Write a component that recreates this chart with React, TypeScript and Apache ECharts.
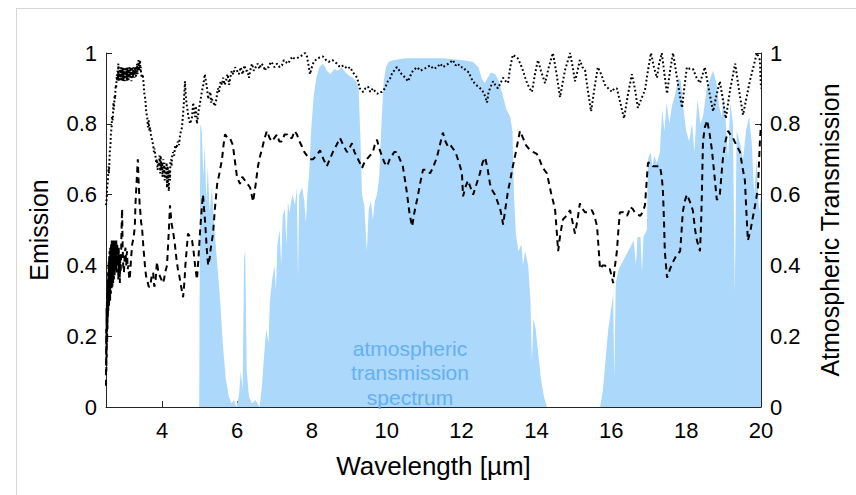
import React, { useEffect, useRef } from "react";
import * as echarts from "echarts";

// Atmospheric transmission spectrum [wavelength µm, transmission]
const transmission: [number, number][] = [
  [2.5, 0], [4.99, 0], [5.0, 0], [5.02, 0.8], [5.06, 0.78], [5.1, 0.65], [5.14, 0.74], [5.18, 0.58],
  [5.22, 0.68], [5.27, 0.55], [5.33, 0.62], [5.4, 0.5], [5.46, 0.42], [5.55, 0.3], [5.62, 0.18],
  [5.7, 0.08], [5.78, 0.03], [5.85, 0.01], [5.92, 0.02], [5.98, 0.0], [6.05, 0.03], [6.1, 0.1],
  [6.15, 0.05], [6.19, 0.42], [6.22, 0.44], [6.26, 0.1], [6.32, 0.03], [6.4, 0.01], [6.5, 0.02],
  [6.6, 0.0], [6.66, 0.05], [6.72, 0.14], [6.78, 0.22], [6.84, 0.18], [6.88, 0.3], [6.94, 0.36],
  [7.0, 0.4], [7.04, 0.33], [7.08, 0.46], [7.14, 0.5], [7.18, 0.4], [7.22, 0.54], [7.28, 0.56],
  [7.32, 0.46], [7.36, 0.58], [7.4, 0.55], [7.48, 0.6], [7.55, 0.57], [7.6, 0.62], [7.63, 0.36],
  [7.66, 0.6], [7.74, 0.62], [7.8, 0.58], [7.84, 0.52], [7.88, 0.6], [7.93, 0.66], [7.98, 0.78],
  [8.05, 0.88], [8.12, 0.93], [8.2, 0.96], [8.3, 0.97], [8.4, 0.95], [8.5, 0.94], [8.6, 0.955],
  [8.7, 0.95], [8.8, 0.96], [8.9, 0.945], [9.0, 0.935], [9.1, 0.93], [9.18, 0.92], [9.25, 0.9],
  [9.3, 0.75], [9.34, 0.6], [9.4, 0.57], [9.47, 0.44], [9.52, 0.56], [9.58, 0.58], [9.63, 0.53],
  [9.68, 0.58], [9.74, 0.6], [9.8, 0.65], [9.86, 0.8], [9.92, 0.92], [9.98, 0.96], [10.05, 0.975],
  [10.2, 0.98], [10.5, 0.985], [11.0, 0.985], [11.5, 0.985], [12.0, 0.98], [12.3, 0.975],
  [12.45, 0.96], [12.55, 0.925], [12.62, 0.915], [12.7, 0.93], [12.78, 0.945], [12.9, 0.94],
  [13.0, 0.92], [13.1, 0.88], [13.2, 0.84], [13.3, 0.82], [13.36, 0.78], [13.4, 0.6], [13.45, 0.49],
  [13.52, 0.44], [13.6, 0.46], [13.64, 0.4], [13.7, 0.44], [13.78, 0.4], [13.84, 0.3], [13.88, 0.13],
  [13.92, 0.25], [13.98, 0.22], [14.05, 0.15], [14.12, 0.08], [14.2, 0.03], [14.28, 0.0],
  [15.7, 0.0], [15.78, 0.05], [15.86, 0.15], [15.92, 0.22], [16.0, 0.28], [16.05, 0.32],
  [16.08, 0.08], [16.12, 0.35], [16.2, 0.39], [16.3, 0.41], [16.4, 0.43], [16.5, 0.45],
  [16.6, 0.47], [16.66, 0.4], [16.7, 0.48], [16.78, 0.48], [16.82, 0.38], [16.86, 0.48],
  [16.95, 0.5], [16.98, 0.7], [17.05, 0.72], [17.1, 0.68], [17.15, 0.71], [17.22, 0.69],
  [17.3, 0.72], [17.36, 0.84], [17.42, 0.78], [17.48, 0.86], [17.55, 0.8], [17.62, 0.85],
  [17.7, 0.88], [17.8, 0.93], [17.86, 0.92], [17.92, 0.85], [18.0, 0.78], [18.08, 0.75],
  [18.16, 0.8], [18.22, 0.72], [18.3, 0.87], [18.38, 0.8], [18.45, 0.82], [18.55, 0.9],
  [18.65, 0.93], [18.72, 0.95], [18.8, 0.92], [18.88, 0.85], [18.95, 0.82], [19.0, 0.88],
  [19.05, 0.82], [19.12, 0.7], [19.18, 0.86], [19.25, 0.8], [19.3, 0.32], [19.35, 0.78],
  [19.45, 0.74], [19.52, 0.7], [19.6, 0.78], [19.68, 0.82], [19.75, 0.75], [19.82, 0.6],
  [19.88, 0.7], [19.95, 0.55], [20.0, 0.6],
];

// Emission, dotted curve [wavelength µm, emission]
const emissionDotted: [number, number][] = [
  [2.5, 0.57], [2.52, 0.59], [2.53, 0.62], [2.55, 0.64], [2.57, 0.68], [2.58, 0.66], [2.6, 0.72],
  [2.62, 0.74], [2.63, 0.77], [2.65, 0.79], [2.66, 0.82], [2.68, 0.81], [2.7, 0.86], [2.71, 0.84],
  [2.73, 0.88], [2.74, 0.87], [2.76, 0.91], [2.77, 0.9], [2.79, 0.94], [2.8, 0.92], [2.81, 0.95],
  [2.82, 0.93], [2.83, 0.97], [2.84, 0.92], [2.85, 0.95], [2.86, 0.93], [2.87, 0.96], [2.88, 0.92],
  [2.89, 0.95], [2.9, 0.93], [2.91, 0.96], [2.92, 0.92], [2.93, 0.95], [2.94, 0.93], [2.95, 0.96],
  [2.96, 0.92], [2.97, 0.95], [2.98, 0.93], [2.99, 0.96], [3.0, 0.92], [3.01, 0.95], [3.02, 0.93],
  [3.03, 0.96], [3.04, 0.93], [3.05, 0.95], [3.06, 0.92], [3.07, 0.96], [3.08, 0.93], [3.09, 0.95],
  [3.1, 0.92], [3.11, 0.96], [3.12, 0.93], [3.13, 0.95], [3.14, 0.93], [3.15, 0.96], [3.16, 0.93],
  [3.17, 0.95], [3.18, 0.92], [3.19, 0.96], [3.2, 0.93], [3.21, 0.95], [3.22, 0.93], [3.23, 0.96],
  [3.24, 0.94], [3.25, 0.95], [3.26, 0.93], [3.27, 0.96], [3.28, 0.94], [3.29, 0.96], [3.3, 0.93],
  [3.31, 0.96], [3.32, 0.94], [3.33, 0.97], [3.34, 0.94], [3.35, 0.96], [3.36, 0.95], [3.37, 0.98],
  [3.38, 0.95], [3.39, 0.97], [3.4, 0.96], [3.41, 0.98], [3.42, 0.95], [3.43, 0.96], [3.44, 0.94],
  [3.46, 0.93], [3.48, 0.94], [3.5, 0.92], [3.52, 0.89], [3.53, 0.88], [3.55, 0.87], [3.57, 0.84],
  [3.58, 0.83], [3.6, 0.82], [3.62, 0.79], [3.64, 0.81], [3.66, 0.78], [3.68, 0.79], [3.7, 0.77],
  [3.72, 0.76], [3.74, 0.75], [3.76, 0.74], [3.78, 0.72], [3.8, 0.73], [3.82, 0.71], [3.84, 0.69],
  [3.86, 0.7], [3.88, 0.67], [3.9, 0.69], [3.92, 0.68], [3.93, 0.71], [3.95, 0.66], [3.96, 0.71],
  [3.98, 0.67], [4.0, 0.69], [4.01, 0.65], [4.03, 0.7], [4.04, 0.66], [4.06, 0.69], [4.07, 0.64],
  [4.09, 0.68], [4.1, 0.65], [4.12, 0.69], [4.13, 0.62], [4.15, 0.68], [4.16, 0.63], [4.18, 0.61],
  [4.19, 0.67], [4.21, 0.64], [4.22, 0.69], [4.24, 0.7], [4.25, 0.68], [4.27, 0.71], [4.29, 0.72],
  [4.32, 0.71], [4.35, 0.74], [4.38, 0.73], [4.42, 0.75], [4.45, 0.74], [4.48, 0.77], [4.53, 0.79],
  [4.56, 0.83], [4.58, 0.86], [4.61, 0.92], [4.63, 0.88], [4.65, 0.86], [4.69, 0.83], [4.72, 0.81],
  [4.75, 0.8], [4.8, 0.82], [4.83, 0.86], [4.85, 0.84], [4.88, 0.82], [4.9, 0.85], [4.93, 0.8],
  [4.98, 0.84], [5.03, 0.87], [5.06, 0.89], [5.1, 0.91], [5.14, 0.94], [5.17, 0.92], [5.2, 0.9],
  [5.23, 0.87], [5.25, 0.88], [5.29, 0.89], [5.31, 0.86], [5.33, 0.87], [5.37, 0.86], [5.41, 0.85],
  [5.45, 0.87], [5.49, 0.9], [5.52, 0.89], [5.56, 0.92], [5.6, 0.91], [5.63, 0.93], [5.67, 0.91],
  [5.7, 0.92], [5.75, 0.94], [5.79, 0.91], [5.82, 0.93], [5.86, 0.95], [5.9, 0.94], [5.95, 0.96],
  [6.0, 0.95], [6.05, 0.94], [6.1, 0.96], [6.15, 0.94], [6.2, 0.965], [6.24, 0.95], [6.28, 0.95],
  [6.32, 0.93], [6.35, 0.95], [6.4, 0.97], [6.45, 0.95], [6.5, 0.96], [6.55, 0.97], [6.6, 0.955],
  [6.65, 0.97], [6.7, 0.965], [6.75, 0.95], [6.78, 0.96], [6.85, 0.96], [6.9, 0.975], [6.95, 0.97],
  [7.0, 0.96], [7.07, 0.97], [7.14, 0.96], [7.2, 0.965], [7.25, 0.98], [7.3, 0.975], [7.36, 0.97],
  [7.42, 0.98], [7.48, 0.99], [7.52, 0.985], [7.6, 0.985], [7.68, 0.99], [7.76, 0.995], [7.82, 1.0],
  [7.87, 0.99], [7.92, 0.96], [7.95, 0.94], [8.0, 0.96], [8.05, 0.975], [8.15, 0.985], [8.3, 0.99],
  [8.38, 0.98], [8.45, 0.975], [8.55, 0.98], [8.67, 0.97], [8.75, 0.96], [8.85, 0.965], [8.95, 0.955],
  [9.02, 0.96], [9.1, 0.945], [9.21, 0.93], [9.28, 0.9], [9.37, 0.89], [9.43, 0.9], [9.5, 0.905],
  [9.56, 0.89], [9.63, 0.9], [9.7, 0.89], [9.75, 0.885], [9.81, 0.89], [9.87, 0.89], [9.95, 0.9],
  [10.03, 0.92], [10.1, 0.93], [10.15, 0.945], [10.2, 0.95], [10.27, 0.96], [10.34, 0.95],
  [10.4, 0.94], [10.5, 0.93], [10.57, 0.92], [10.63, 0.935], [10.7, 0.95], [10.81, 0.96],
  [10.9, 0.95], [11.0, 0.955], [11.08, 0.96], [11.16, 0.965], [11.25, 0.955], [11.35, 0.96],
  [11.43, 0.97], [11.5, 0.96], [11.58, 0.965], [11.65, 0.97], [11.77, 0.98], [11.84, 0.965],
  [11.9, 0.97], [11.97, 0.96], [12.04, 0.96], [12.12, 0.95], [12.2, 0.945], [12.25, 0.93],
  [12.31, 0.92], [12.38, 0.91], [12.45, 0.905], [12.55, 0.895], [12.62, 0.88], [12.68, 0.86],
  [12.72, 0.89], [12.76, 0.9], [12.84, 0.92], [12.9, 0.91], [12.97, 0.9], [13.04, 0.915],
  [13.11, 0.93], [13.18, 0.92], [13.24, 0.915], [13.3, 0.96], [13.37, 0.995], [13.44, 0.99],
  [13.5, 0.985], [13.57, 0.97], [13.64, 0.95], [13.7, 0.93], [13.75, 0.915], [13.82, 0.9],
  [13.88, 0.89], [13.96, 0.94], [14.04, 0.98], [14.12, 0.95], [14.23, 0.915], [14.33, 0.96],
  [14.44, 1.0], [14.54, 0.94], [14.63, 0.875], [14.76, 0.95], [14.9, 1.0], [14.97, 0.96],
  [15.03, 0.92], [15.1, 0.95], [15.16, 0.98], [15.23, 0.96], [15.3, 0.95], [15.38, 0.89],
  [15.46, 0.835], [15.55, 0.9], [15.64, 0.96], [15.73, 0.94], [15.83, 0.91], [15.92, 0.9],
  [16.02, 0.89], [16.08, 0.9], [16.15, 0.9], [16.24, 0.86], [16.34, 0.815], [16.44, 0.88],
  [16.55, 0.94], [16.63, 0.9], [16.71, 0.845], [16.8, 0.87], [16.9, 0.895], [16.98, 0.95],
  [17.06, 1.0], [17.14, 0.96], [17.22, 0.93], [17.28, 0.97], [17.35, 1.0], [17.42, 0.94],
  [17.49, 0.885], [17.57, 0.95], [17.65, 1.0], [17.77, 0.92], [17.89, 0.845], [17.96, 0.91],
  [18.02, 0.96], [18.1, 0.955], [18.18, 0.955], [18.28, 0.93], [18.37, 0.915], [18.44, 0.94],
  [18.5, 0.96], [18.6, 0.9], [18.72, 0.835], [18.81, 0.88], [18.9, 0.92], [18.98, 0.87],
  [19.06, 0.815], [19.18, 0.9], [19.31, 0.97], [19.42, 0.89], [19.52, 0.825], [19.7, 0.92],
  [19.89, 1.0], [19.97, 0.98], [20.0, 0.9],
];

// Emission, dashed curve [wavelength µm, emission]
const emissionDashed: [number, number][] = [
  [2.5, 0.06], [2.505, 0.22], [2.51, 0.1], [2.515, 0.28], [2.52, 0.14], [2.525, 0.3], [2.53, 0.18],
  [2.535, 0.33], [2.54, 0.22], [2.545, 0.36], [2.55, 0.25], [2.555, 0.38], [2.56, 0.27],
  [2.565, 0.4], [2.57, 0.3], [2.575, 0.41], [2.58, 0.28], [2.585, 0.43], [2.59, 0.31],
  [2.595, 0.44], [2.6, 0.33], [2.605, 0.42], [2.61, 0.3], [2.615, 0.45], [2.62, 0.34],
  [2.625, 0.44], [2.63, 0.32], [2.635, 0.46], [2.64, 0.35], [2.645, 0.43], [2.65, 0.33],
  [2.655, 0.47], [2.66, 0.36], [2.665, 0.44], [2.67, 0.34], [2.675, 0.46], [2.68, 0.37],
  [2.685, 0.45], [2.69, 0.35], [2.695, 0.47], [2.7, 0.38], [2.705, 0.44], [2.71, 0.36],
  [2.715, 0.46], [2.72, 0.39], [2.725, 0.45], [2.73, 0.37], [2.735, 0.47], [2.74, 0.4],
  [2.745, 0.44], [2.75, 0.38], [2.755, 0.46], [2.76, 0.41], [2.765, 0.45], [2.77, 0.39],
  [2.775, 0.47], [2.78, 0.42], [2.79, 0.38], [2.8, 0.46], [2.81, 0.4], [2.82, 0.44], [2.83, 0.36],
  [2.84, 0.45], [2.85, 0.39], [2.86, 0.43], [2.87, 0.35], [2.88, 0.42], [2.89, 0.38], [2.9, 0.41],
  [2.915, 0.5], [2.93, 0.56], [2.945, 0.45], [2.96, 0.4], [2.98, 0.38], [3.0, 0.43], [3.02, 0.45],
  [3.04, 0.4], [3.06, 0.44], [3.08, 0.39], [3.1, 0.4], [3.12, 0.36], [3.14, 0.37], [3.17, 0.42],
  [3.2, 0.46], [3.24, 0.48], [3.27, 0.51], [3.29, 0.58], [3.31, 0.62], [3.33, 0.66], [3.35, 0.7],
  [3.37, 0.64], [3.38, 0.62], [3.4, 0.57], [3.41, 0.56], [3.44, 0.52], [3.46, 0.51], [3.5, 0.45],
  [3.54, 0.4], [3.57, 0.37], [3.6, 0.36], [3.64, 0.34], [3.68, 0.34], [3.72, 0.37], [3.76, 0.38],
  [3.79, 0.34], [3.82, 0.35], [3.86, 0.41], [3.9, 0.38], [3.94, 0.37], [3.98, 0.36], [4.02, 0.35],
  [4.05, 0.36], [4.08, 0.38], [4.13, 0.4], [4.16, 0.46], [4.18, 0.5], [4.21, 0.57], [4.25, 0.52],
  [4.3, 0.49], [4.34, 0.46], [4.38, 0.42], [4.42, 0.39], [4.46, 0.37], [4.49, 0.35], [4.56, 0.31],
  [4.6, 0.36], [4.62, 0.4], [4.66, 0.45], [4.69, 0.49], [4.75, 0.48], [4.8, 0.47], [4.84, 0.44],
  [4.88, 0.4], [4.93, 0.36], [4.97, 0.42], [5.01, 0.49], [5.05, 0.55], [5.09, 0.6], [5.12, 0.56],
  [5.15, 0.52], [5.19, 0.45], [5.23, 0.4], [5.27, 0.42], [5.3, 0.45], [5.36, 0.49], [5.41, 0.56],
  [5.47, 0.63], [5.53, 0.66], [5.6, 0.7], [5.64, 0.74], [5.68, 0.77], [5.75, 0.76], [5.81, 0.76],
  [5.89, 0.74], [5.95, 0.69], [6.0, 0.65], [6.08, 0.63], [6.14, 0.65], [6.21, 0.64], [6.28, 0.63],
  [6.35, 0.62], [6.43, 0.58], [6.5, 0.63], [6.56, 0.68], [6.62, 0.71], [6.67, 0.73], [6.74, 0.76],
  [6.8, 0.78], [6.87, 0.76], [6.93, 0.75], [7.0, 0.76], [7.07, 0.77], [7.13, 0.75], [7.2, 0.75],
  [7.27, 0.77], [7.34, 0.77], [7.4, 0.76], [7.47, 0.76], [7.54, 0.78], [7.6, 0.77], [7.67, 0.75],
  [7.74, 0.735], [7.8, 0.72], [7.87, 0.71], [7.95, 0.7], [8.03, 0.7], [8.12, 0.71], [8.22, 0.725],
  [8.31, 0.7], [8.4, 0.68], [8.48, 0.7], [8.56, 0.72], [8.66, 0.74], [8.75, 0.76], [8.84, 0.74],
  [8.94, 0.72], [9.0, 0.73], [9.07, 0.745], [9.14, 0.72], [9.21, 0.705], [9.28, 0.69],
  [9.34, 0.675], [9.4, 0.69], [9.47, 0.7], [9.55, 0.71], [9.63, 0.72], [9.68, 0.74], [9.74, 0.755],
  [9.8, 0.73], [9.87, 0.71], [9.94, 0.69], [10.01, 0.68], [10.08, 0.7], [10.14, 0.71], [10.2, 0.72],
  [10.27, 0.72], [10.35, 0.7], [10.43, 0.68], [10.49, 0.64], [10.54, 0.605], [10.58, 0.57],
  [10.62, 0.54], [10.68, 0.51], [10.74, 0.55], [10.81, 0.585], [10.89, 0.63], [10.97, 0.67],
  [11.06, 0.67], [11.16, 0.66], [11.25, 0.68], [11.34, 0.705], [11.42, 0.74], [11.5, 0.775],
  [11.57, 0.75], [11.64, 0.735], [11.7, 0.74], [11.77, 0.73], [11.84, 0.72], [11.9, 0.7],
  [11.96, 0.68], [12.01, 0.66], [12.04, 0.595], [12.1, 0.62], [12.17, 0.64], [12.24, 0.62],
  [12.31, 0.6], [12.4, 0.63], [12.49, 0.66], [12.56, 0.69], [12.63, 0.705], [12.7, 0.67],
  [12.76, 0.63], [12.83, 0.61], [12.89, 0.6], [12.96, 0.58], [13.03, 0.56], [13.07, 0.54],
  [13.11, 0.515], [13.17, 0.56], [13.24, 0.61], [13.3, 0.64], [13.35, 0.67], [13.45, 0.72],
  [13.56, 0.78], [13.64, 0.76], [13.72, 0.74], [13.83, 0.725], [13.92, 0.72], [14.01, 0.715],
  [14.08, 0.7], [14.15, 0.68], [14.21, 0.67], [14.28, 0.66], [14.34, 0.63], [14.4, 0.6],
  [14.45, 0.58], [14.5, 0.556], [14.54, 0.5], [14.58, 0.44], [14.64, 0.49], [14.71, 0.53],
  [14.8, 0.54], [14.9, 0.556], [14.97, 0.52], [15.03, 0.49], [15.1, 0.53], [15.16, 0.575],
  [15.23, 0.56], [15.3, 0.55], [15.39, 0.55], [15.48, 0.556], [15.55, 0.54], [15.62, 0.51],
  [15.66, 0.45], [15.7, 0.39], [15.77, 0.4], [15.83, 0.4], [15.9, 0.39], [15.96, 0.39],
  [16.01, 0.37], [16.05, 0.35], [16.1, 0.4], [16.15, 0.44], [16.19, 0.5], [16.23, 0.55],
  [16.32, 0.55], [16.42, 0.54], [16.46, 0.55], [16.5, 0.565], [16.57, 0.56], [16.63, 0.55],
  [16.7, 0.545], [16.77, 0.54], [16.84, 0.55], [16.9, 0.57], [16.94, 0.63], [16.98, 0.69],
  [17.05, 0.69], [17.11, 0.68], [17.2, 0.68], [17.3, 0.68], [17.35, 0.65], [17.38, 0.61],
  [17.41, 0.52], [17.43, 0.44], [17.49, 0.365], [17.57, 0.39], [17.65, 0.41], [17.75, 0.43],
  [17.84, 0.44], [17.88, 0.5], [17.91, 0.55], [17.96, 0.58], [18.02, 0.6], [18.1, 0.58],
  [18.18, 0.555], [18.24, 0.5], [18.29, 0.47], [18.37, 0.44], [18.4, 0.52], [18.42, 0.6],
  [18.45, 0.75], [18.5, 0.79], [18.56, 0.81], [18.63, 0.77], [18.69, 0.725], [18.76, 0.65],
  [18.82, 0.585], [18.86, 0.59], [18.9, 0.6], [18.94, 0.65], [18.98, 0.7], [19.05, 0.75],
  [19.12, 0.78], [19.18, 0.77], [19.25, 0.76], [19.34, 0.74], [19.44, 0.72], [19.5, 0.68],
  [19.57, 0.64], [19.61, 0.55], [19.65, 0.47], [19.72, 0.5], [19.79, 0.54], [19.86, 0.58],
  [19.92, 0.62], [19.97, 0.75], [20.0, 0.8],
];

const xTicks = [4, 6, 8, 10, 12, 14, 16, 18, 20];
const annotationLines = ["atmospheric", "transmission", "spectrum"];

const FONT = "'Liberation Sans', Arial, Helvetica, sans-serif";
const AXIS_COLOR = "#262626";

export default function App() {
  const ref = useRef<HTMLDivElement>(null);

  useEffect(() => {
    if (!ref.current) return;
    const chart = echarts.init(ref.current, undefined, { renderer: "svg" });

    const yAxisCommon = {
      type: "value" as const,
      min: 0,
      max: 1,
      interval: 0.2,
      splitLine: { show: false },
      axisLine: { show: true, lineStyle: { color: AXIS_COLOR, width: 1 } },
      axisTick: { show: true, inside: true, length: 6, lineStyle: { color: AXIS_COLOR } },
      axisLabel: { color: "#000", fontSize: 22, fontFamily: FONT, margin: 9 },
      nameLocation: "middle" as const,
      nameTextStyle: { color: "#000", fontSize: 25, fontFamily: FONT },
    };

    chart.setOption({
      animation: false,
      backgroundColor: "#fff",
      textStyle: { fontFamily: FONT },
      grid: { left: 106, right: 95, top: 53, bottom: 88, containLabel: false },
      xAxis: {
        type: "value",
        min: 2.5,
        max: 20,
        minInterval: 2,
        maxInterval: 2,
        splitLine: { show: false },
        axisLine: { show: true, onZero: false, lineStyle: { color: AXIS_COLOR, width: 1 } },
        axisTick: { show: true, inside: true, length: 6, lineStyle: { color: AXIS_COLOR } },
        axisLabel: {
          color: "#000",
          fontSize: 22,
          fontFamily: FONT,
          margin: 12,
          showMinLabel: false,
          formatter: (v: number) => (xTicks.includes(v) ? String(v) : ""),
        },
        name: "Wavelength [µm]",
        nameLocation: "middle",
        nameGap: 46,
        nameTextStyle: { color: "#000", fontSize: 26, fontFamily: FONT, verticalAlign: "top" },
      },
      yAxis: [
        { ...yAxisCommon, position: "left", name: "Emission", nameGap: 55 },
        { ...yAxisCommon, position: "right", name: "Atmospheric Transmission", nameGap: 56 },
      ],
      series: [
        {
          type: "line",
          name: "transmission",
          yAxisIndex: 1,
          data: transmission,
          showSymbol: false,
          symbol: "none",
          silent: true,
          lineStyle: { width: 0, color: "#abd8fb" },
          areaStyle: { color: "#abd8fb", opacity: 1 },
          z: 1,
        },
        {
          type: "line",
          name: "emission dotted",
          yAxisIndex: 0,
          data: emissionDotted,
          showSymbol: false,
          symbol: "none",
          silent: true,
          lineStyle: { width: 2, color: "#000", type: [1.8, 2.4] },
          z: 3,
        },
        {
          type: "line",
          name: "emission dashed",
          yAxisIndex: 0,
          data: emissionDashed,
          showSymbol: false,
          symbol: "none",
          silent: true,
          lineStyle: { width: 2, color: "#000", type: [6, 4.5] },
          z: 4,
        },
      ],
      graphic: [
        {
          type: "line",
          shape: { x1: 16, y1: 8.5, x2: 856, y2: 8.5 },
          style: { stroke: "#d6d6d6", lineWidth: 1 },
          silent: true,
        },
        {
          type: "line",
          shape: { x1: 16.5, y1: 8, x2: 16.5, y2: 495 },
          style: { stroke: "#d6d6d6", lineWidth: 1 },
          silent: true,
        },
        ...annotationLines.map((t, i) => ({
          type: "text",
          x: 410,
          y: 348 + i * 24.5,
          z: 100,
          silent: true,
          style: {
            text: t,
            fill: "#66b0f0",
            font: `21px ${FONT}`,
            align: "center",
            verticalAlign: "middle",
          },
        })),
      ],
    });

    return () => chart.dispose();
  }, []);

  return (
    <div
      ref={ref}
      style={{ position: "fixed", left: 0, top: 0, width: 856, height: 495, background: "#fff" }}
    />
  );
}
